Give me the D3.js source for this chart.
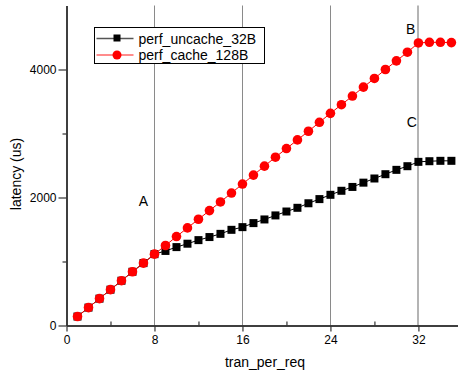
<!DOCTYPE html>
<html>
<head>
<meta charset="utf-8">
<script src="https://cdn.jsdelivr.net/npm/d3@7"></script>
<style>
  body { margin: 0; background: white; }
  text { font-family: Arial, 'Liberation Sans', sans-serif; fill: #000; }
</style>
</head>
<body>
<div id="chart"></div>
<script>
// tran_per_req values
const tranPerReq = d3.range(1, 36);

// latency (us) per series
const uncache32B = [140, 280, 420, 560, 700, 840, 975, 1115, 1165, 1225, 1278, 1334, 1382, 1432, 1495,
  1537, 1600, 1657, 1720, 1781, 1839, 1910, 1975, 2042, 2105, 2165, 2232, 2297, 2364, 2432, 2489,
  2557, 2567, 2573, 2573];
const cache128B = [140, 280, 420, 560, 700, 840, 975, 1115, 1250, 1390, 1525, 1660, 1795, 1930, 2070,
  2210, 2350, 2490, 2630, 2765, 2900, 3035, 3175, 3315, 3450, 3585, 3725, 3860, 4000, 4135, 4270,
  4415, 4425, 4425, 4420];

const seriesNames = ['perf_uncache_32B', 'perf_cache_128B'];
const xMajorTicks = [0, 8, 16, 24, 32];
const xMinorTicks = [4, 12, 20, 28];
const yMajorTicks = [0, 2000, 4000];
const yMinorTicks = [1000, 3000];
const notes = [
  {label: 'A', x: 7, y: 1870},
  {label: 'B', x: 31.3, y: 4560},
  {label: 'C', x: 31.4, y: 3100}
];

const width = 458, height = 373;

const xScale = d3.scaleLinear().domain([0, 35.6]).range([66.5, 458]);
const yScale = d3.scaleLinear().domain([0, 5000]).range([325.5, 5.5]);

const svg = d3.select('#chart')
    .append('svg')
    .attr('width', width)
    .attr('height', height);

// vertical grid lines
svg.append('g')
    .selectAll('line')
    .data(xMajorTicks.filter(d => d > 0))
    .enter().append('line')
    .attr('x1', d => d === 32 ? Math.round(xScale(d)) : Math.round(xScale(d)) + 0.5)
    .attr('x2', d => d === 32 ? Math.round(xScale(d)) : Math.round(xScale(d)) + 0.5)
    .attr('y1', yScale(5000))
    .attr('y2', yScale(0))
    .attr('stroke', d => d === 32 ? '#b4b4b4' : '#8a8a8a')
    .attr('stroke-width', d => d === 32 ? 2 : 1);

// x axis
const xAxis = svg.append('g')
    .attr('transform', 'translate(0,' + yScale(0) + ')')
    .call(d3.axisBottom(xScale).tickValues(xMajorTicks).tickSize(6).tickPadding(4).tickSizeOuter(0));
xAxis.append('g')
    .call(d3.axisTop(xScale).tickValues(xMinorTicks).tickSize(4).tickFormat('').tickSizeOuter(0));

// y axis
const yAxis = svg.append('g')
    .attr('transform', 'translate(' + xScale(0) + ',0)')
    .call(d3.axisLeft(yScale).tickValues(yMajorTicks).tickSize(8).tickPadding(2)
        .tickFormat(d3.format('d')).tickSizeOuter(0));
yAxis.append('g')
    .call(d3.axisLeft(yScale).tickValues(yMinorTicks).tickSize(4).tickFormat('').tickSizeOuter(0));

svg.selectAll('.domain').attr('stroke', '#333').attr('stroke-width', 1.5);
svg.selectAll('.tick line').attr('stroke', '#333').attr('stroke-width', 1.2);
svg.selectAll('.tick text').style('font-size', '12px').attr('fill', '#000');

// axis labels
svg.append('text')
    .attr('x', 265)
    .attr('y', 367)
    .attr('text-anchor', 'middle')
    .style('font-size', '14px')
    .text('tran_per_req');

svg.append('text')
    .attr('transform', 'translate(21,174) rotate(-90)')
    .attr('text-anchor', 'middle')
    .style('font-size', '14px')
    .text('latency (us)');

const line = d3.line()
    .x((d, i) => xScale(tranPerReq[i]))
    .y(d => yScale(d));

// black series
svg.append('path')
    .datum(uncache32B)
    .attr('fill', 'none')
    .attr('stroke', '#000')
    .attr('stroke-width', 1)
    .attr('d', line);
svg.append('g')
    .selectAll('rect')
    .data(uncache32B)
    .enter().append('rect')
    .attr('x', (d, i) => xScale(tranPerReq[i]) - 4)
    .attr('y', d => yScale(d) - 4)
    .attr('width', 8)
    .attr('height', 8)
    .attr('fill', '#000');

// red series
svg.append('path')
    .datum(cache128B)
    .attr('fill', 'none')
    .attr('stroke', '#f00')
    .attr('stroke-width', 1)
    .attr('d', line);
svg.append('g')
    .selectAll('circle')
    .data(cache128B)
    .enter().append('circle')
    .attr('cx', (d, i) => xScale(tranPerReq[i]))
    .attr('cy', d => yScale(d))
    .attr('r', 4.8)
    .attr('fill', '#f00');

// point labels
svg.selectAll('.note')
    .data(notes)
    .enter().append('text')
    .attr('class', 'note')
    .attr('x', d => xScale(d.x))
    .attr('y', d => yScale(d.y))
    .attr('text-anchor', 'middle')
    .style('font-size', '14px')
    .text(d => d.label);

// legend
const legend = svg.append('g').attr('transform', 'translate(94.5,27.5)');
legend.append('rect')
    .attr('width', 170)
    .attr('height', 36)
    .attr('fill', 'white')
    .attr('stroke', '#000')
    .attr('stroke-width', 1);
const legendColor = ['#000', '#f00'];
const legendLine = ['#555', '#f66'];
seriesNames.forEach((name, i) => {
  const row = legend.append('g').attr('transform', 'translate(0,' + (11 + i * 16.5) + ')');
  row.append('line')
      .attr('x1', 2).attr('x2', 39)
      .attr('stroke', legendLine[i])
      .attr('stroke-width', 1.5);
  if (i === 0) {
    row.append('rect').attr('x', 19).attr('y', -4).attr('width', 7).attr('height', 7).attr('fill', legendColor[i]);
  } else {
    row.append('circle').attr('cx', 22.5).attr('cy', 0).attr('r', 4.5).attr('fill', legendColor[i]);
  }
  row.append('text')
      .attr('x', 44)
      .attr('y', 5)
      .style('font-size', '14px')
      .text(name);
});
</script>
</body>
</html>
